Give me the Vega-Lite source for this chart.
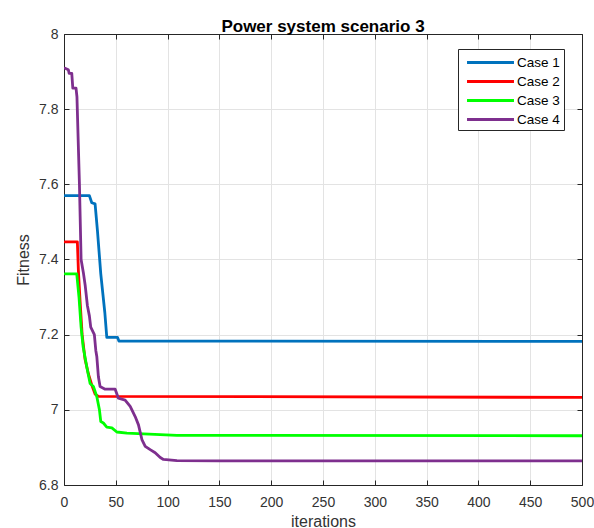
{
  "$schema": "https://vega.github.io/schema/vega-lite/v6.json",
  "width": 518,
  "height": 451,
  "autosize": {"type": "none"},
  "padding": {"left": 64, "top": 34, "right": 12, "bottom": 43},
  "background": "white",
  "config": {
    "view": {"stroke": null},
    "font": "Liberation Sans"
  },
  "title": {
    "text": "Power system scenario 3",
    "font": "Liberation Sans",
    "fontSize": 17,
    "fontWeight": "bold",
    "color": "#000000",
    "baseline": "alphabetic",
    "offset": -22,
    "anchor": "middle"
  },
  "data": {
    "values": [
      {"case": "Case 1", "it": 1, "f": 7.570},
      {"case": "Case 1", "it": 24.5, "f": 7.570},
      {"case": "Case 1", "it": 26.8, "f": 7.551},
      {"case": "Case 1", "it": 30, "f": 7.548},
      {"case": "Case 1", "it": 32.3, "f": 7.476},
      {"case": "Case 1", "it": 35.5, "f": 7.362},
      {"case": "Case 1", "it": 39.4, "f": 7.259},
      {"case": "Case 1", "it": 41.3, "f": 7.193},
      {"case": "Case 1", "it": 51.6, "f": 7.193},
      {"case": "Case 1", "it": 53, "f": 7.183},
      {"case": "Case 1", "it": 500, "f": 7.182},

      {"case": "Case 2", "it": 1, "f": 7.447},
      {"case": "Case 2", "it": 12.9, "f": 7.447},
      {"case": "Case 2", "it": 13.9, "f": 7.37},
      {"case": "Case 2", "it": 15.5, "f": 7.29},
      {"case": "Case 2", "it": 17.5, "f": 7.2},
      {"case": "Case 2", "it": 20.3, "f": 7.135},
      {"case": "Case 2", "it": 23.5, "f": 7.096},
      {"case": "Case 2", "it": 26.8, "f": 7.066},
      {"case": "Case 2", "it": 30, "f": 7.042},
      {"case": "Case 2", "it": 33.2, "f": 7.036},
      {"case": "Case 2", "it": 500, "f": 7.033},

      {"case": "Case 3", "it": 1, "f": 7.362},
      {"case": "Case 3", "it": 12.3, "f": 7.362},
      {"case": "Case 3", "it": 14.5, "f": 7.299},
      {"case": "Case 3", "it": 16.5, "f": 7.22},
      {"case": "Case 3", "it": 18.5, "f": 7.167},
      {"case": "Case 3", "it": 22, "f": 7.114},
      {"case": "Case 3", "it": 25.2, "f": 7.070},
      {"case": "Case 3", "it": 28.4, "f": 7.062},
      {"case": "Case 3", "it": 31.7, "f": 7.035},
      {"case": "Case 3", "it": 34.2, "f": 7.0},
      {"case": "Case 3", "it": 35.5, "f": 6.969},
      {"case": "Case 3", "it": 38, "f": 6.965},
      {"case": "Case 3", "it": 41.3, "f": 6.954},
      {"case": "Case 3", "it": 46.2, "f": 6.952},
      {"case": "Case 3", "it": 51, "f": 6.941},
      {"case": "Case 3", "it": 60.7, "f": 6.938},
      {"case": "Case 3", "it": 92.9, "f": 6.934},
      {"case": "Case 3", "it": 109, "f": 6.932},
      {"case": "Case 3", "it": 500, "f": 6.931},

      {"case": "Case 4", "it": 1, "f": 7.909},
      {"case": "Case 4", "it": 4.2, "f": 7.905},
      {"case": "Case 4", "it": 5, "f": 7.895},
      {"case": "Case 4", "it": 7.5, "f": 7.895},
      {"case": "Case 4", "it": 8.5, "f": 7.856},
      {"case": "Case 4", "it": 11.6, "f": 7.856},
      {"case": "Case 4", "it": 12.5, "f": 7.833},
      {"case": "Case 4", "it": 14.9, "f": 7.6},
      {"case": "Case 4", "it": 16.5, "f": 7.4},
      {"case": "Case 4", "it": 18.7, "f": 7.365},
      {"case": "Case 4", "it": 20.5, "f": 7.33},
      {"case": "Case 4", "it": 22.6, "f": 7.277},
      {"case": "Case 4", "it": 24.5, "f": 7.25},
      {"case": "Case 4", "it": 25.8, "f": 7.22},
      {"case": "Case 4", "it": 29.3, "f": 7.2},
      {"case": "Case 4", "it": 30.7, "f": 7.158},
      {"case": "Case 4", "it": 31.7, "f": 7.141},
      {"case": "Case 4", "it": 33.2, "f": 7.088},
      {"case": "Case 4", "it": 34.8, "f": 7.062},
      {"case": "Case 4", "it": 39.7, "f": 7.055},
      {"case": "Case 4", "it": 49.4, "f": 7.055},
      {"case": "Case 4", "it": 52.5, "f": 7.031},
      {"case": "Case 4", "it": 59, "f": 7.026},
      {"case": "Case 4", "it": 63.9, "f": 7.009},
      {"case": "Case 4", "it": 68.7, "f": 6.982},
      {"case": "Case 4", "it": 71.9, "f": 6.960},
      {"case": "Case 4", "it": 75.2, "f": 6.921},
      {"case": "Case 4", "it": 78.4, "f": 6.903},
      {"case": "Case 4", "it": 83.2, "f": 6.894},
      {"case": "Case 4", "it": 88, "f": 6.886},
      {"case": "Case 4", "it": 92.9, "f": 6.873},
      {"case": "Case 4", "it": 96, "f": 6.868},
      {"case": "Case 4", "it": 109, "f": 6.865},
      {"case": "Case 4", "it": 150, "f": 6.864},
      {"case": "Case 4", "it": 500, "f": 6.864}
    ]
  },
  "layer": [
    {
      "mark": {"type": "line", "strokeWidth": 2.8, "strokeJoin": "round", "strokeCap": "round", "clip": true},
      "encoding": {
        "x": {
          "field": "it", "type": "quantitative",
          "scale": {"domain": [0, 500], "nice": false, "zero": false},
          "axis": {
            "orient": "bottom",
            "values": [0, 50, 100, 150, 200, 250, 300, 350, 400, 450, 500],
            "grid": true, "gridColor": "#e3e3e3", "gridWidth": 1,
            "tickSize": -5, "tickColor": "#262626", "tickWidth": 1,
            "domainColor": "#262626", "domainWidth": 1,
            "labelFont": "Liberation Sans", "labelFontSize": 14, "labelColor": "#333333",
            "labelPadding": 15, "labelFlush": false, "labelOverlap": false,
            "title": "iterations", "titleFont": "Liberation Sans", "titleFontSize": 16,
            "titleFontWeight": "normal", "titleColor": "#333333", "titlePadding": 4
          }
        },
        "y": {
          "field": "f", "type": "quantitative",
          "scale": {"domain": [6.8, 8], "nice": false, "zero": false},
          "axis": {
            "orient": "left",
            "values": [6.8, 7, 7.2, 7.4, 7.6, 7.8, 8],
            "format": ".1~f",
            "grid": true, "gridColor": "#e3e3e3", "gridWidth": 1,
            "tickSize": -5, "tickColor": "#262626", "tickWidth": 1,
            "domainColor": "#262626", "domainWidth": 1,
            "labelFont": "Liberation Sans", "labelFontSize": 14, "labelColor": "#333333",
            "labelPadding": 11, "labelFlush": false, "labelOverlap": false,
            "title": "Fitness", "titleFont": "Liberation Sans", "titleFontSize": 16,
            "titleFontWeight": "normal", "titleColor": "#333333", "titlePadding": 7
          }
        },
        "color": {
          "field": "case", "type": "nominal",
          "scale": {"domain": ["Case 1", "Case 2", "Case 3", "Case 4"], "range": ["#0072BD", "#FF0000", "#00FF00", "#7E2F8E"]},
          "legend": {
            "orient": "none", "legendX": 394, "legendY": 15,
            "title": null,
            "symbolType": "M-3,0H3", "symbolSize": 245, "symbolStrokeWidth": 2.8,
            "symbolOffset": 19, "labelOffset": 17, "rowPadding": 3,
            "labelFont": "Liberation Sans", "labelFontSize": 13.5, "labelColor": "#000000",
            "padding": 4, "strokeColor": "#262626", "fillColor": "white",
            "cornerRadius": 0
          }
        }
      }
    },
    {
      "mark": {"type": "line", "opacity": 0},
      "encoding": {
        "x": {
          "field": "it", "type": "quantitative",
          "axis": {
            "orient": "top",
            "values": [0, 50, 100, 150, 200, 250, 300, 350, 400, 450, 500],
            "labels": false, "grid": false, "title": null,
            "tickSize": -5, "tickColor": "#262626", "domainColor": "#262626"
          }
        },
        "y": {
          "field": "f", "type": "quantitative",
          "axis": {
            "orient": "right",
            "values": [6.8, 7, 7.2, 7.4, 7.6, 7.8, 8],
            "labels": false, "grid": false, "title": null,
            "tickSize": -5, "tickColor": "#262626", "domainColor": "#262626"
          }
        },
        "detail": {"field": "case"}
      }
    }
  ],
  "resolve": {"axis": {"x": "independent", "y": "independent"}}
}
